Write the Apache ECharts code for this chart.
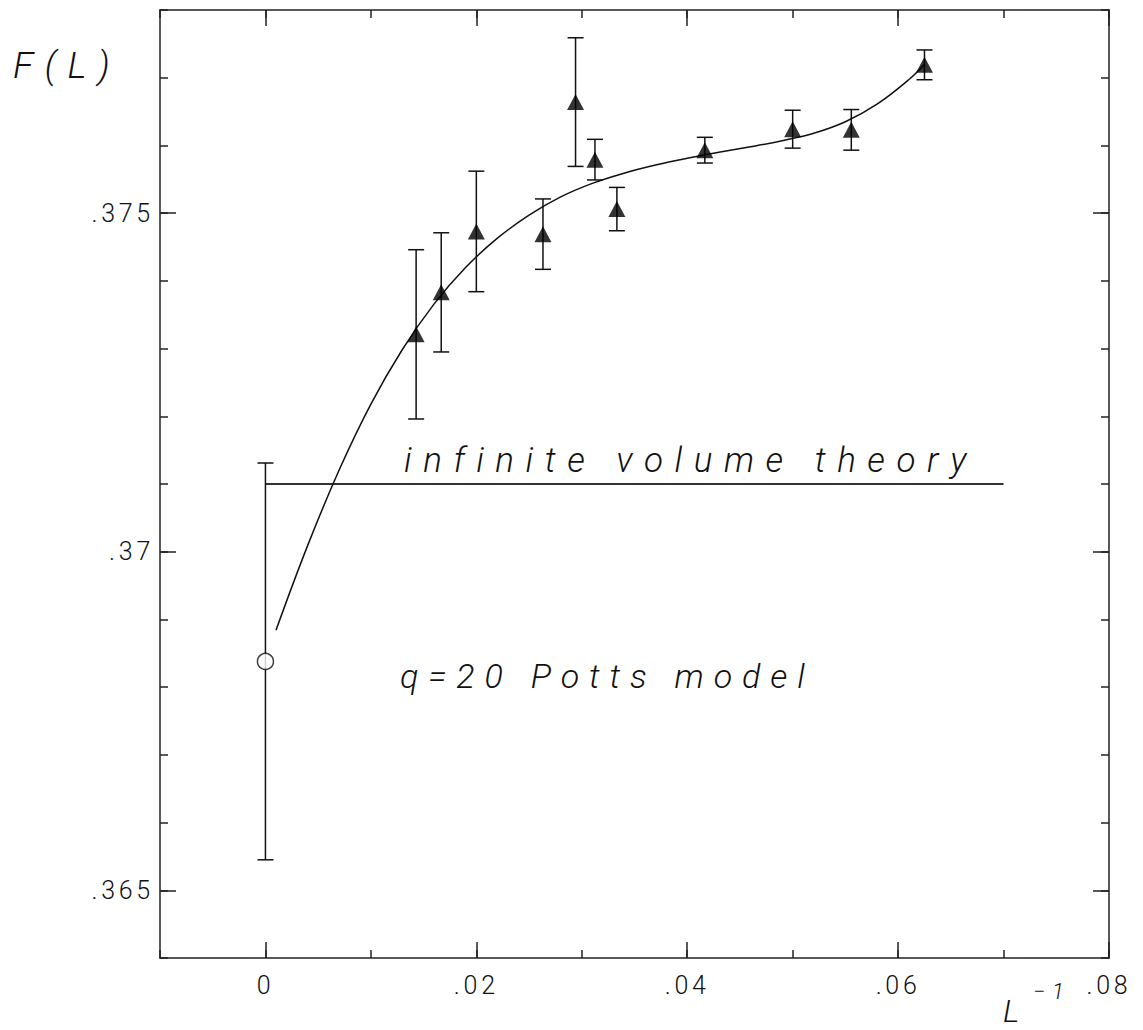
<!DOCTYPE html>
<html>
<head>
<meta charset="utf-8">
<script src="https://cdn.jsdelivr.net/npm/echarts@6/dist/echarts.min.js"></script>
<style>
html, body { margin: 0; padding: 0; background: #fff; }
#chart { width: 1143px; height: 1030px; }
/* wide, typewriter-like spacing of the original plot lettering */
#chart text[style*="25px"] { letter-spacing: 0.15em; }
#chart text[style*="35px"] { letter-spacing: 0.33em; }
#chart text[style*="34px"] { letter-spacing: 0.29em; }
#chart text[style*="37px"], #chart text[style*="32px"], #chart text[style*="22px"] { letter-spacing: 0.31em; }
</style>
</head>
<body>
<div id="chart"></div>
<script>
// measured points (1/L) with error bars
var invL = [0.01429, 0.01667, 0.02, 0.02632, 0.02941, 0.03125, 0.03333, 0.04167, 0.05, 0.05556, 0.0625];
var fVal = [0.37321, 0.37383, 0.37473, 0.37469, 0.37664, 0.37579, 0.37506, 0.37593, 0.37624, 0.37623, 0.37719];
var fErr = [0.00125, 0.00088, 0.00089, 0.00052, 0.00095, 0.00030, 0.00032, 0.00019, 0.00028, 0.00030, 0.00022];

// extrapolated value at 1/L = 0
var extX = [0];
var extF = [0.36838];
var extErr = [0.00293];

// infinite volume theory line
var theoryX = [0, 0.07];
var theoryF = [0.371, 0.371];

// fitted curve
var fitX = [0.001, 0.004, 0.007, 0.010, 0.013, 0.016, 0.019, 0.022, 0.025, 0.028, 0.031,
            0.034, 0.037, 0.040, 0.043, 0.046, 0.049, 0.052, 0.055, 0.058, 0.061, 0.0625];
var fitY = [0.36884, 0.37009, 0.37121, 0.37218, 0.37299, 0.37366, 0.3742, 0.37463, 0.37497, 0.37524, 0.37544,
            0.37559, 0.37571, 0.37581, 0.3759, 0.37598, 0.37607, 0.37618, 0.37635, 0.37661, 0.37697, 0.3772];

// ticks
var xMajor = [0, 0.02, 0.04, 0.06, 0.08];
var yMajor = [0.365, 0.37, 0.375];

var ink = '#111';
var fontFam = 'Roboto, "DejaVu Sans", sans-serif';

function zip(a, b) {
	var out = [];
	for (var i = 0; i < a.length; i++) out.push([a[i], b[i]]);
	return out;
}
function bars(x, v, e) {
	var out = [];
	for (var i = 0; i < x.length; i++) out.push([x[i], v[i] - e[i], v[i] + e[i]]);
	return out;
}
function fmt(v) {
	var s = String(Math.round(v * 1000) / 1000);
	return s.replace(/^0\./, '.');
}

function errBar(params, api) {
	var x = api.value(0);
	var lo = api.coord([x, api.value(1)]);
	var hi = api.coord([x, api.value(2)]);
	var w = 8;
	var st = { stroke: ink, lineWidth: 1.5 };
	return {
		type: 'group',
		children: [
			{ type: 'line', shape: { x1: lo[0], y1: lo[1], x2: hi[0], y2: hi[1] }, style: st },
			{ type: 'line', shape: { x1: lo[0] - w, y1: lo[1], x2: lo[0] + w, y2: lo[1] }, style: st },
			{ type: 'line', shape: { x1: hi[0] - w, y1: hi[1], x2: hi[0] + w, y2: hi[1] }, style: st }
		]
	};
}

var labelStyle = { color: ink, fontSize: 25, fontFamily: fontFam, fontWeight: 300 };
var lineStyle = { color: '#222', width: 1.5 };

// minor axis: frame line + short ticks; major axis: long ticks + labels
function xAxes(pos) {
	return [{
		type: 'value', position: pos, min: -0.01, max: 0.08, interval: 0.01,
		axisLine: { show: true, onZero: false, lineStyle: lineStyle },
		axisTick: { show: true, inside: true, length: 8, lineStyle: lineStyle },
		axisLabel: { show: false }, splitLine: { show: false }
	}, {
		type: 'value', position: pos, min: -0.01, max: 0.08,
		axisLine: { show: false, onZero: false },
		axisTick: { show: true, inside: true, length: 16, customValues: xMajor, lineStyle: lineStyle },
		axisLabel: pos === 'bottom'
			? Object.assign({ show: true, margin: 15, customValues: xMajor, formatter: fmt }, labelStyle)
			: { show: false },
		splitLine: { show: false }
	}];
}
function yAxes(pos) {
	return [{
		type: 'value', position: pos, min: 0.364, max: 0.378, interval: 0.001,
		axisLine: { show: true, onZero: false, lineStyle: lineStyle },
		axisTick: { show: true, inside: true, length: 8, lineStyle: lineStyle },
		axisLabel: { show: false }, splitLine: { show: false }
	}, {
		type: 'value', position: pos, min: 0.364, max: 0.378,
		axisLine: { show: false, onZero: false },
		axisTick: { show: true, inside: true, length: 16, customValues: yMajor, lineStyle: lineStyle },
		axisLabel: pos === 'left'
			? Object.assign({ show: true, margin: 6, customValues: yMajor, formatter: fmt }, labelStyle)
			: { show: false },
		splitLine: { show: false }
	}];
}

var bigText = { fill: ink, fontFamily: fontFam, fontWeight: 300, fontStyle: 'italic', verticalAlign: 'middle', align: 'left' };
function txt(s, x, y, size) {
	return { type: 'text', x: x, y: y, style: Object.assign({ text: s, fontSize: size }, bigText) };
}

var chart = echarts.init(document.getElementById('chart'), null, { renderer: 'svg' });
chart.setOption({
	animation: false,
	backgroundColor: '#fff',
	grid: { left: 160, right: 34, top: 10, bottom: 72, outerBoundsMode: 'none' },
	xAxis: xAxes('bottom').concat(xAxes('top')),
	yAxis: yAxes('left').concat(yAxes('right')),
	graphic: [
		txt('F(L)', 13, 65, 37),
		txt('infinite volume theory', 404, 460, 35),
		txt('q=20 Potts model', 400, 676, 34),
		txt('L', 1003, 1011, 32),
		txt('\u22121', 1033, 991, 22)
	],
	series: [{
		type: 'line',
		data: zip(theoryX, theoryF),
		showSymbol: false,
		lineStyle: { color: '#333', width: 2 },
		z: 1
	}, {
		type: 'line',
		data: zip(fitX, fitY),
		showSymbol: false,
		smooth: 0.4,
		lineStyle: { color: ink, width: 1.5 },
		z: 2
	}, {
		type: 'custom',
		renderItem: errBar,
		data: bars(invL, fVal, fErr),
		encode: { x: 0, y: [1, 2] },
		z: 3
	}, {
		type: 'custom',
		renderItem: errBar,
		data: bars(extX, extF, extErr),
		encode: { x: 0, y: [1, 2] },
		z: 3
	}, {
		type: 'scatter',
		data: zip(invL, fVal),
		symbol: 'triangle',
		symbolSize: [17, 16],
		itemStyle: { color: '#000' },
		z: 4
	}, {
		type: 'scatter',
		data: zip(extX, extF),
		symbol: 'circle',
		symbolSize: 16,
		itemStyle: { color: '#fff', borderColor: ink, borderWidth: 1.5 },
		z: 4
	}]
});
</script>
</body>
</html>
